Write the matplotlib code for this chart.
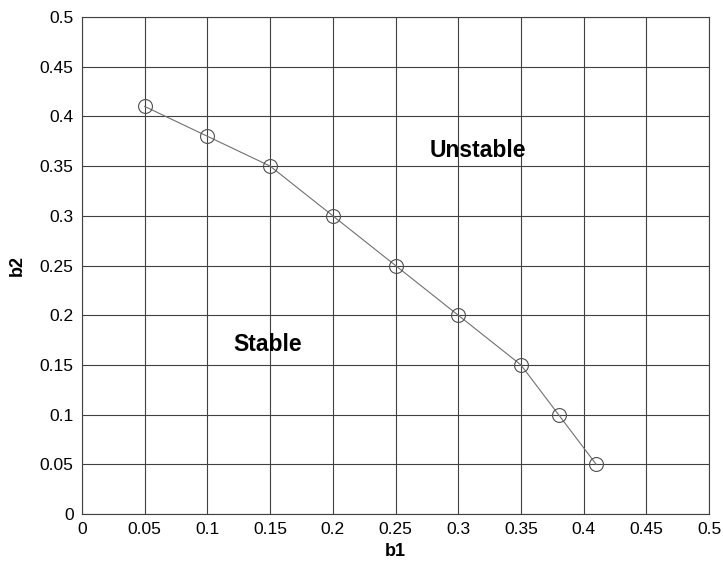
import matplotlib
matplotlib.use('Agg')
import matplotlib.pyplot as plt

plt.rcParams['font.family'] = ['Liberation Sans', 'DejaVu Sans']

# stability boundary points
b1 = [0.05, 0.1, 0.15, 0.2, 0.25, 0.3, 0.35, 0.38, 0.41]
b2 = [0.41, 0.38, 0.35, 0.3, 0.25, 0.2, 0.15, 0.1, 0.05]
ticks = [0, 0.05, 0.1, 0.15, 0.2, 0.25, 0.3, 0.35, 0.4, 0.45, 0.5]
tick_labels = ['0', '0.05', '0.1', '0.15', '0.2', '0.25', '0.3', '0.35', '0.4', '0.45', '0.5']

fig = plt.figure(figsize=(7.23, 5.61), dpi=100)
ax = fig.add_axes([82 / 723, 1 - 514 / 561, (709 - 82) / 723, (514 - 17) / 561])

ax.plot(b1, b2, color='#707070', linewidth=0.8, marker='o', markersize=10,
        markerfacecolor='none', markeredgecolor='#505050', markeredgewidth=0.8)

ax.set_xlim(0, 0.5)
ax.set_ylim(0, 0.5)
ax.set_xticks(ticks)
ax.set_xticklabels(tick_labels)
ax.set_yticks(ticks)
ax.set_yticklabels(tick_labels)
ax.tick_params(length=0, labelsize=12.5, pad=6)
ax.grid(True, color='#404040', linewidth=0.8)
for s in ax.spines.values():
    s.set_color('#404040')
    s.set_linewidth(0.8)

ax.text(0.2775, 0.366, 'Unstable', fontsize=16.5, fontweight='bold', va='center')
ax.text(0.1205, 0.171, 'Stable', fontsize=16.5, fontweight='bold', va='center')

ax.set_xlabel('b1', fontsize=13, fontweight='bold', labelpad=4)
ax.set_ylabel('b2', fontsize=13, fontweight='bold', labelpad=10)

fig.savefig('out.png', dpi=100)
